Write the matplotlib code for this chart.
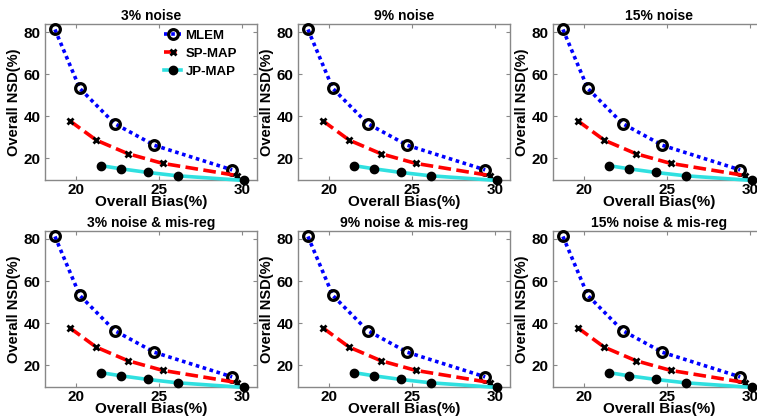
import matplotlib
matplotlib.use("Agg")
import matplotlib.pyplot as plt

plt.rcParams['font.family'] = ['Liberation Sans', 'DejaVu Sans']
plt.rcParams['font.weight'] = 'bold'

titles = ["3% noise", "9% noise", "15% noise",
          "3% noise & mis-reg", "9% noise & mis-reg", "15% noise & mis-reg"]
series_names = ["MLEM", "SP-MAP", "JP-MAP"]

mlem_bias = [18.7, 20.2, 22.3, 24.7, 29.4]
mlem_nsd = [81.2, 53.2, 36.5, 26.2, 14.5]
sp_bias = [19.6, 21.2, 23.1, 25.2, 29.7]
sp_nsd = [37.8, 28.6, 22.2, 17.6, 11.8]
jp_bias = [21.5, 22.7, 24.3, 26.1, 30.1]
jp_nsd = [16.5, 15.0, 13.3, 11.7, 9.5]

x_ticks = [20, 25, 30]
y_ticks = [20, 40, 60, 80]

fig = plt.figure(figsize=(7.57, 4.16), dpi=100)
W, H = 757.0, 416.0
lefts = [45, 298, 553]
axw = 212
tops = [24, 231]
axh = 156

for r in range(2):
    for c in range(3):
        i = r * 3 + c
        l = lefts[c]
        t = tops[r]
        ax = fig.add_axes([l / W, 1 - (t + axh) / H, axw / W, axh / H])
        ax.plot(mlem_bias, mlem_nsd, color='#0000ff', linestyle=(0, (1, 1)), lw=2.6,
                marker='o', markersize=7, markerfacecolor='none',
                markeredgecolor='black', markeredgewidth=2.3, label=series_names[0],
                clip_on=False, zorder=3)
        ax.plot(sp_bias, sp_nsd, color='#ff0000', linestyle=(0, (3.5, 1.5)), lw=2.6,
                marker='x', markersize=5, markeredgecolor='black',
                markeredgewidth=2.0, label=series_names[1], clip_on=False, zorder=3)
        ax.plot(jp_bias, jp_nsd, color='#30e0e0', linestyle='-', lw=2.6,
                marker='o', markersize=6, markerfacecolor='black',
                markeredgecolor='black', label=series_names[2], clip_on=False, zorder=3)
        ax.set_xlim(18.1, 30.9)
        ax.set_ylim(9.7, 83.8)
        ax.set_xticks(x_ticks)
        ax.set_yticks(y_ticks)
        ax.tick_params(direction='in', length=3, width=0.8, color='#888888',
                       labelsize=11, top=True, right=True, pad=3)
        ax.tick_params(axis='x', pad=2)
        for lab in ax.get_xticklabels() + ax.get_yticklabels():
            lab.set_fontweight('bold')
        for s in ax.spines.values():
            s.set_color('#888888')
            s.set_linewidth(1.0)
        ax.set_title(titles[i], fontsize=10, fontweight='bold', pad=3)
        ax.set_xlabel("Overall Bias(%)", fontsize=11, fontweight='bold', labelpad=-1)
        ax.set_ylabel("Overall NSD(%)", fontsize=10.5, fontweight='bold', labelpad=2)
        if i == 0:
            leg = ax.legend(loc='upper right', frameon=False, fontsize=9.5,
                            handlelength=1.3, handletextpad=0.3, labelspacing=0.45,
                            borderaxespad=0.0, bbox_to_anchor=(0.93, 1.0), numpoints=1)
            for txt in leg.get_texts():
                txt.set_fontweight('bold')

fig.savefig("out.png", dpi=100)
